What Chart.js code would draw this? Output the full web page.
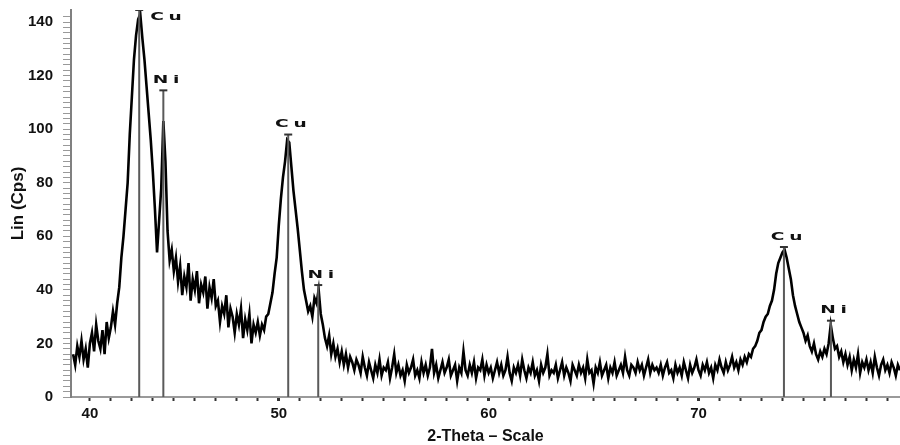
<!DOCTYPE html>
<html>
<head>
<meta charset="utf-8">
<script src="https://cdn.jsdelivr.net/npm/chart.js@4.4.1/dist/chart.umd.min.js"></script>
<style>
  html, body { margin: 0; padding: 0; background: #fff; }
  #wrap { width: 900px; height: 445px; }
</style>
</head>
<body>
<div id="wrap"><canvas id="xrdChart"></canvas></div>
<script>
// Difratograma: 2-theta a partir de 40.2, passo 0.1
const thetaStart = 40.2;
const thetaStep = 0.1;
const intensity = [
  16, 12, 19, 15, 21, 14, 18, 11, 20,
  24, 17, 27, 21, 18, 25, 16, 28, 22, 26,
  32, 27, 35, 41, 52, 60, 70, 80, 98, 112,
  126, 135, 141, 143, 134, 126, 116, 106, 96, 84,
  70, 54, 66, 78, 103, 88, 62, 51, 55, 47,
  52, 43, 49, 38, 45, 41, 50, 36, 44, 40,
  47, 35, 42, 39, 45, 33, 41, 37, 44, 34,
  36, 28, 34, 31, 38, 26, 33, 30, 24, 31,
  27, 33, 22, 29, 25, 31, 20, 27, 24, 28,
  23, 27, 25, 30, 31, 35, 39, 46, 52, 64,
  74, 82, 88, 96, 95, 86, 77, 70, 63, 55,
  47, 40, 36, 32, 34, 30, 37, 35, 40, 31,
  27, 22, 19, 23, 16, 20, 15, 18, 13, 17,
  12, 16, 11, 15, 13, 10, 14, 12, 9, 15,
  11, 8, 13, 10, 7, 12, 9, 14, 8, 11,
  10, 13, 7, 11, 16, 9, 12, 8, 10, 6,
  12, 9, 11, 14, 8, 10, 7, 13, 9, 12,
  8, 11, 18, 9, 12, 7, 10, 13, 9, 11,
  14, 8, 10, 12, 6, 11, 9, 17, 10, 8,
  12, 9, 13, 7, 11, 10, 14, 8, 12, 9,
  11, 7, 10, 13, 9, 12, 8, 10, 15, 9,
  6, 11, 9, 12, 8, 14, 10, 7, 11, 9,
  13, 8, 10, 6, 12, 9, 11, 16, 8, 10,
  9, 12, 7, 10, 13, 8, 11, 9, 6, 12,
  10, 8, 12, 9, 11, 7, 14, 9, 10, 5,
  11, 9, 13, 8, 10, 12, 7, 11, 9, 13,
  8, 10, 12, 9, 15, 10, 8, 12, 11, 9,
  13, 10, 12, 8, 11, 14, 9, 12, 10, 11,
  9, 12, 8, 11, 13, 9, 10, 7, 12, 9,
  11, 8, 13, 10, 7, 12, 9, 11, 14, 10,
  8, 12, 10, 13, 9, 11, 7, 12, 10, 14,
  11, 9, 13, 10, 12, 15, 11, 13, 10, 14,
  12, 15, 13, 16, 15, 18, 19, 21, 24, 25,
  28, 30, 31, 34, 36, 40, 46, 50, 52, 54,
  55, 52, 48, 44, 38, 34, 31, 28, 26, 24,
  21, 23, 19, 17, 20, 16, 14, 17, 15, 18,
  16, 20, 27, 22, 18, 19, 15, 17, 13, 16,
  12, 15, 10, 14, 11, 16, 9, 13, 11, 14,
  10, 13, 9, 15, 11, 8, 12, 14, 10, 12,
  9, 13, 11, 8, 12, 10
];

// Linhas de referência das fases
const peakPositions = [43.35, 44.5, 50.45, 51.88, 74.07, 76.31];
const peakHeights = [144.5, 114.5, 98, 41.8, 56, 28.5];
const peakPhases = ['Cu', 'Ni', 'Cu', 'Ni', 'Cu', 'Ni'];

// Eixos
const xMin = 40.1, xMax = 79.6;
const yMin = 0, yMax = 144.5;
const xTickValues = [41, 42, 43, 44, 45, 46, 47, 48, 49, 50, 51, 52, 53, 54, 55, 56, 57, 58, 59, 60,
  61, 62, 63, 64, 65, 66, 67, 68, 69, 70, 71, 72, 73, 74, 75, 76, 77, 78, 79];
const xTickLabels = { 41: '40', 50: '50', 60: '60', 70: '70' };
const yTickLabels = [0, 20, 40, 60, 80, 100, 120, 140];

const spectrum = intensity.map((v, i) => ({ x: +(thetaStart + i * thetaStep).toFixed(2), y: v }));

const markerPoints = [];
peakPositions.forEach((p, i) => {
  markerPoints.push({ x: p, y: 0 }, { x: p, y: peakHeights[i] }, { x: p, y: null });
});

const labelFont = "'Liberation Sans Narrow', 'Liberation Sans', Arial, sans-serif";

// Rótulos Cu / Ni sobre as linhas
const phaseLabels = {
  id: 'phaseLabels',
  afterDatasetsDraw(chart) {
    const { ctx, chartArea, scales } = chart;
    ctx.save();
    ctx.fillStyle = '#111';
    ctx.font = "bold 12px 'DejaVu Sans', sans-serif";
    ctx.letterSpacing = '3px';
    ctx.textBaseline = 'middle';
    peakPositions.forEach((p, i) => {
      const px = scales.x.getPixelForValue(p);
      let py = scales.y.getPixelForValue(peakHeights[i]);
      let tx;
      const w = ctx.measureText(peakPhases[i]).width * 1.55;
      if (py < chartArea.top + 12) {
        py = chartArea.top + 7;
        tx = px + 11;
      } else {
        py = py - 10;
        tx = px + 5 - w / 2;
      }
      ctx.save();
      ctx.translate(tx, py);
      ctx.scale(1.55, 0.85);
      ctx.fillText(peakPhases[i], 0, 0);
      ctx.restore();
    });
    ctx.restore();
  }
};

new Chart(document.getElementById('xrdChart'), {
  type: 'line',
  data: {
    datasets: [
      {
        data: markerPoints,
        borderColor: '#5a5a5a',
        borderWidth: 2,
        pointRadius: ctx => (ctx.raw && ctx.raw.y > 0 ? 4 : 0),
        pointStyle: 'line',
        pointBorderColor: '#333',
        pointBorderWidth: 2,
        spanGaps: false,
        order: 0
      },
      {
        data: spectrum,
        borderColor: '#000',
        borderWidth: 2.6,
        pointRadius: 0,
        tension: 0,
        order: 1
      }
    ]
  },
  plugins: [phaseLabels],
  options: {
    responsive: true,
    maintainAspectRatio: false,
    animation: false,
    layout: { padding: { top: 10, right: 0, left: 0, bottom: 0 } },
    plugins: { legend: { display: false }, tooltip: { enabled: false } },
    scales: {
      x: {
        type: 'linear',
        min: xMin,
        max: xMax,
        afterFit: s => { s.height = 48; s.paddingLeft = 0; s.paddingRight = 0; },
        afterBuildTicks: s => { s.ticks = xTickValues.map(v => ({ value: v })); },
        border: { color: '#9a9a9a', width: 2 },
        grid: {
          drawOnChartArea: false,
          tickLength: 4,
          tickColor: '#333',
          tickWidth: c => (c.tick && c.tick.value % 10 === 0 ? 3 : 2)
        },
        ticks: {
          autoSkip: false,
          maxRotation: 0,
          padding: 4,
          color: '#111',
          font: { family: labelFont, size: 15, weight: 'bold' },
          callback: v => xTickLabels[v] || ''
        },
        title: {
          display: true,
          text: '2-Theta – Scale',
          color: '#111',
          padding: { top: 0, bottom: 0 },
          font: { family: labelFont, size: 16, weight: 'bold', lineHeight: 1 }
        }
      },
      y: {
        min: yMin,
        max: yMax,
        afterFit: s => { s.width = 71; s.paddingTop = 0; s.paddingBottom = 0; },
        afterBuildTicks: s => { s.ticks = s.ticks.filter(t => Number.isInteger(t.value)); },
        border: { color: '#808080', width: 2 },
        grid: {
          drawOnChartArea: false,
          tickLength: 8,
          tickColor: '#999',
          tickWidth: 1
        },
        ticks: {
          stepSize: 2,
          autoSkip: false,
          padding: 10,
          color: '#111',
          font: { family: labelFont, size: 15, weight: 'bold' },
          callback: v => (yTickLabels.includes(v) ? v : '')
        },
        title: {
          display: true,
          text: 'Lin (Cps)',
          color: '#111',
          padding: { top: 8, bottom: 0 },
          font: { family: labelFont, size: 17, weight: 'bold' }
        }
      }
    }
  }
});
</script>
</body>
</html>
